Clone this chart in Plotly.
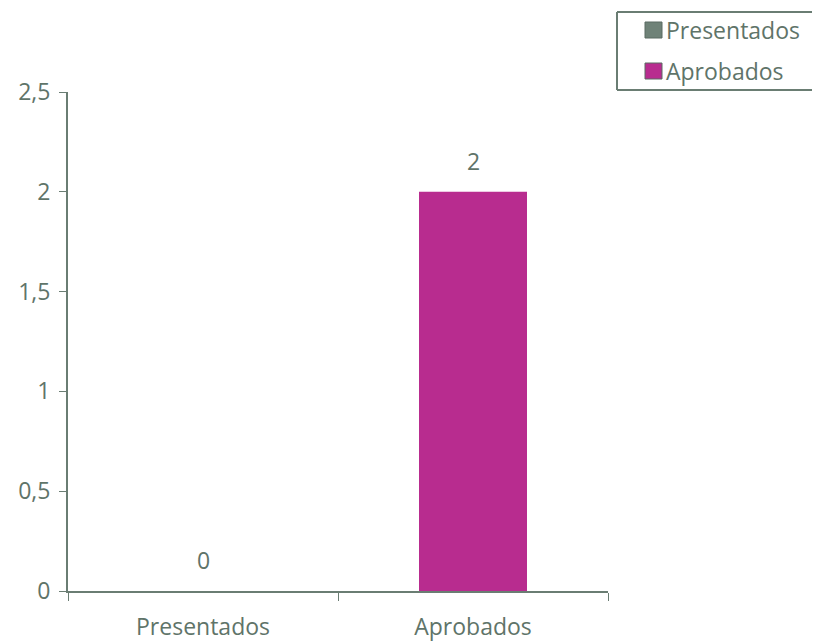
import plotly.graph_objects as go

categories = ["Presentados", "Aprobados"]
values = [0, 2]
colors = ["#6f8278", "#b82c8f"]
y_ticks = [0, 0.5, 1, 1.5, 2, 2.5]

text_color = "#5f7469"
axis_color = "#6a7d73"
FONT = "Open Sans"
FS = 23

OFF = 8  # page body margin offset
W, H = 812, 635
PW, PH = 540, 499
L, T = 68 - OFF, 92 - OFF
R, B = W - L - PW, H - T - PH


def px_x(px):
    return (px - OFF - L) / PW


def px_y(py):
    return (T + PH - (py - OFF)) / PH


fig = go.Figure()
for i, (cat, val, col) in enumerate(zip(categories, values, colors)):
    fig.add_trace(go.Bar(
        x=[cat], y=[val], name=cat, marker_color=col, width=0.4,
        marker_line_width=0, showlegend=False,
    ))

annotations = []
# value labels above bars
for cat, val in zip(categories, values):
    annotations.append(dict(x=cat, y=val, xref="x", yref="y", text=str(val),
                            showarrow=False, yanchor="bottom", yshift=13,
                            font=dict(size=FS, color=text_color, family=FONT)))

# manual legend (box open on the right + swatches + labels)
line_style = dict(color=axis_color, width=2)
shapes = [
    dict(type="line", xref="paper", yref="paper",
         x0=px_x(617), x1=px_x(830), y0=px_y(12), y1=px_y(12), line=line_style),
    dict(type="line", xref="paper", yref="paper",
         x0=px_x(617), x1=px_x(830), y0=px_y(90), y1=px_y(90), line=line_style),
    dict(type="line", xref="paper", yref="paper",
         x0=px_x(617), x1=px_x(617), y0=px_y(90), y1=px_y(12), line=line_style),
]
for i, (cat, col) in enumerate(zip(categories, colors)):
    cy = 30 + 41 * i
    shapes.append(dict(type="rect", xref="paper", yref="paper",
                       x0=px_x(645), x1=px_x(662), y0=px_y(cy + 8), y1=px_y(cy - 8),
                       line=dict(color="#5a6b62", width=1), fillcolor=col))
    annotations.append(dict(xref="paper", yref="paper", x=px_x(664), y=px_y(cy),
                            xanchor="left", yanchor="middle", showarrow=False,
                            text=cat, font=dict(size=FS, color=text_color, family=FONT)))

fig.update_layout(
    width=W, height=H,
    margin=dict(l=L, r=R, t=T, b=B, autoexpand=False),
    plot_bgcolor="white", paper_bgcolor="white",
    barmode="overlay",
    separators=",.",
    font=dict(family=FONT, color=text_color, size=FS),
    showlegend=False,
    shapes=shapes,
    annotations=annotations,
    xaxis=dict(
        showline=True, linecolor=axis_color, linewidth=2,
        ticks="outside", tickson="boundaries", ticklen=8, tickcolor=axis_color,
        tickfont=dict(size=FS, color=text_color),
        ticklabelstandoff=14,
        showgrid=False, automargin=False,
    ),
    yaxis=dict(
        range=[0, 2.5], tickvals=y_ticks,
        showline=True, linecolor=axis_color, linewidth=2,
        ticks="outside", ticklen=7, tickcolor=axis_color,
        tickfont=dict(size=FS, color=text_color),
        ticklabelstandoff=4,
        showgrid=False, zeroline=False, automargin=False,
    ),
)

fig.write_html("out.html")
